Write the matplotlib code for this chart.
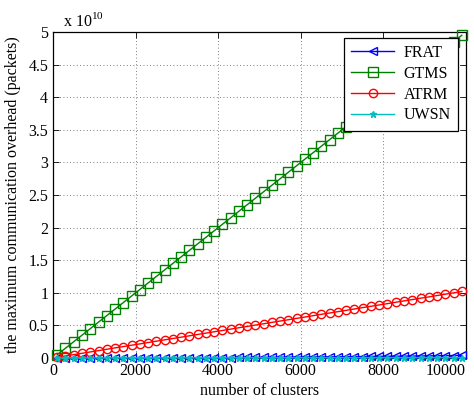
import matplotlib
matplotlib.use("Agg")
import matplotlib.pyplot as plt
from matplotlib.ticker import FuncFormatter

plt.rcParams['font.family'] = ['Liberation Serif', 'DejaVu Serif']
plt.rcParams['mathtext.fontset'] = 'custom'
plt.rcParams['mathtext.rm'] = 'Liberation Serif'

# number of clusters
clusters = [100, 300, 500, 700, 900, 1100, 1300, 1500, 1700, 1900,
            2100, 2300, 2500, 2700, 2900, 3100, 3300, 3500, 3700, 3900,
            4100, 4300, 4500, 4700, 4900, 5100, 5300, 5500, 5700, 5900,
            6100, 6300, 6500, 6700, 6900, 7100, 7300, 7500, 7700, 7900,
            8100, 8300, 8500, 8700, 8900, 9100, 9300, 9500, 9700, 9900]

# maximum communication overhead, in units of 1e10 packets
frat = [0.0000, 0.0000, 0.0001, 0.0002, 0.0003, 0.0005, 0.0007, 0.0009, 0.0012, 0.0014,
        0.0018, 0.0021, 0.0025, 0.0029, 0.0034, 0.0038, 0.0044, 0.0049, 0.0055, 0.0061,
        0.0067, 0.0074, 0.0081, 0.0088, 0.0096, 0.0104, 0.0112, 0.0121, 0.0130, 0.0139,
        0.0149, 0.0159, 0.0169, 0.0180, 0.0190, 0.0202, 0.0213, 0.0225, 0.0237, 0.0250,
        0.0262, 0.0276, 0.0289, 0.0303, 0.0317, 0.0331, 0.0346, 0.0361, 0.0376, 0.0392]
gtms = [0.05, 0.15, 0.25, 0.35, 0.45, 0.55, 0.65, 0.75, 0.85, 0.95,
        1.05, 1.15, 1.25, 1.35, 1.45, 1.55, 1.65, 1.75, 1.85, 1.95,
        2.05, 2.15, 2.25, 2.35, 2.45, 2.55, 2.65, 2.75, 2.85, 2.95,
        3.05, 3.15, 3.25, 3.35, 3.45, 3.55, 3.65, 3.75, 3.85, 3.95,
        4.05, 4.15, 4.25, 4.35, 4.45, 4.55, 4.65, 4.75, 4.85, 4.95]
atrm = [0.010, 0.031, 0.052, 0.072, 0.093, 0.113, 0.134, 0.155, 0.175, 0.196,
        0.216, 0.237, 0.258, 0.278, 0.299, 0.319, 0.340, 0.361, 0.381, 0.402,
        0.422, 0.443, 0.464, 0.484, 0.505, 0.525, 0.546, 0.567, 0.587, 0.608,
        0.628, 0.649, 0.670, 0.690, 0.711, 0.731, 0.752, 0.773, 0.793, 0.814,
        0.834, 0.855, 0.876, 0.896, 0.917, 0.937, 0.958, 0.979, 0.999, 1.020]
uwsn = [0.000, 0.000, 0.000, 0.000, 0.001, 0.001, 0.001, 0.001, 0.001, 0.001,
        0.001, 0.001, 0.001, 0.001, 0.002, 0.002, 0.002, 0.002, 0.002, 0.002,
        0.002, 0.002, 0.002, 0.002, 0.003, 0.003, 0.003, 0.003, 0.003, 0.003,
        0.003, 0.003, 0.003, 0.003, 0.004, 0.004, 0.004, 0.004, 0.004, 0.004,
        0.004, 0.004, 0.004, 0.004, 0.005, 0.005, 0.005, 0.005, 0.005, 0.005]

fig = plt.figure(figsize=(4.74, 4.0), dpi=100)
ax = fig.add_axes([0.112, 0.105, 0.871, 0.815])

# markers are not clipped at the axes border
ax.plot(clusters, frat, color='#0000ff', marker='<', mfc='none', ms=6,
        lw=1.0, label='FRAT', clip_on=False, zorder=3)
ax.plot(clusters, gtms, color='#008000', marker='s', mfc='none', ms=6.5,
        lw=1.0, label='GTMS', clip_on=False, zorder=3)
ax.plot(clusters, atrm, color='#ff0000', marker='o', mfc='none', ms=6,
        lw=1.0, label='ATRM', clip_on=False, zorder=3)
ax.plot(clusters, uwsn, color='#00bfbf', marker='*', ms=5,
        lw=1.0, label='UWSN', clip_on=False, zorder=3)

ax.set_xlim(0, 10000)
ax.set_ylim(0, 5)
ax.set_xticks([0, 2000, 4000, 6000, 8000, 10000])
ax.set_yticks([0, 0.5, 1, 1.5, 2, 2.5, 3, 3.5, 4, 4.5, 5])
ax.yaxis.set_major_formatter(FuncFormatter(lambda v, p: '%g' % v))

ax.tick_params(direction='in', top=True, right=True, length=4,
               labelsize=11.5, width=0.6)
ax.grid(True, linestyle=(0, (1, 3)), color='#555555', linewidth=0.6)
for s in ax.spines.values():
    s.set_linewidth(0.9)

# keep the last x label inside the figure
xl = ax.get_xticklabels()
xl[-1].set_horizontalalignment('right')

ax.set_xlabel('number of clusters', fontsize=11.5, labelpad=3)
ax.set_ylabel('the maximum communication overhead (packets)', fontsize=11.5,
              labelpad=5)
fig.text(0.133, 0.935, r'x 10$^{10}$', fontsize=11.5)

leg = ax.legend(loc='upper right', bbox_to_anchor=(0.981, 0.982),
                borderaxespad=0, fancybox=False, edgecolor='black',
                framealpha=1, fontsize=11.5, handlelength=2.7,
                handletextpad=0.6, borderpad=0.45, labelspacing=0.3)
leg.get_frame().set_linewidth(0.9)
leg.set_zorder(5)

fig.savefig('out.png', dpi=100)
